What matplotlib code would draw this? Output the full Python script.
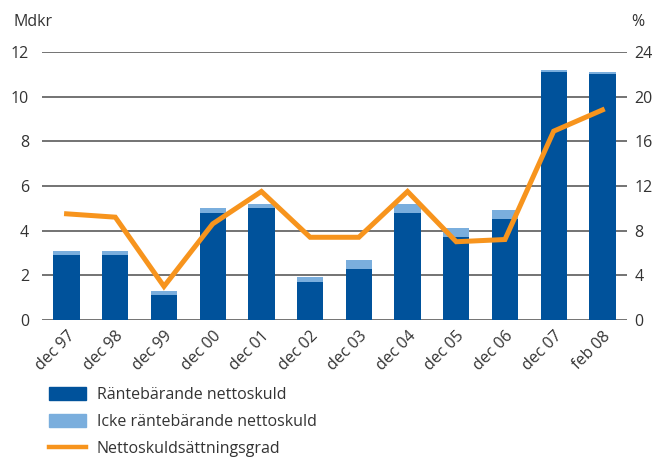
import matplotlib
matplotlib.use('Agg')
import matplotlib.pyplot as plt
from matplotlib.patches import Patch
from matplotlib.lines import Line2D
import numpy as np

plt.rcParams['font.family'] = ['Open Sans', 'DejaVu Sans']

categories = ['dec 97', 'dec 98', 'dec 99', 'dec 00', 'dec 01', 'dec 02',
              'dec 03', 'dec 04', 'dec 05', 'dec 06', 'dec 07', 'feb 08']
# Mdkr
rantebarande = [2.9, 2.9, 1.1, 4.8, 5.0, 1.7, 2.3, 4.8, 3.7, 4.5, 11.1, 11.0]
icke_rantebarande = [0.2, 0.2, 0.2, 0.2, 0.2, 0.2, 0.4, 0.4, 0.4, 0.4, 0.1, 0.1]
# procent
skuldsattningsgrad = [9.5, 9.2, 3.0, 8.6, 11.5, 7.4, 7.4, 11.5, 7.0, 7.2, 16.9, 18.8]

dark_blue = '#00529B'
light_blue = '#7AAEDD'
orange = '#F7941D'
text_col = '#333333'
fs = 11.5

fig = plt.figure(figsize=(6.52, 4.59), dpi=100)
ax = fig.add_axes([0.064, 0.303, 0.898, 0.584])
ax2 = ax.twinx()

x = np.arange(len(categories))
ax.bar(x, rantebarande, width=0.54, color=dark_blue, zorder=3)
ax.bar(x, icke_rantebarande, width=0.54, bottom=rantebarande, color=light_blue, zorder=3)
ax2.plot(x, skuldsattningsgrad, color=orange, lw=3.6, solid_joinstyle='miter', zorder=4)

ax.set_xlim(-0.51, 11.51)
ax.set_ylim(0, 12)
ax2.set_ylim(0, 24)
ax.set_yticks(range(0, 13, 2))
ax2.set_yticks(range(0, 25, 4))
ax.yaxis.grid(True, color='#4d4d4d', lw=1.1, zorder=0)
ax.set_axisbelow(True)

for a in (ax, ax2):
    for s in a.spines.values():
        s.set_visible(False)
    a.tick_params(axis='y', labelsize=fs, colors=text_col, length=0)

ax.tick_params(axis='y', pad=9)
ax2.tick_params(axis='y', pad=5)
ax.set_xticks(x)
ax.set_xticklabels(categories, rotation=45, ha='right', rotation_mode='anchor',
                   fontsize=fs, color=text_col)
ax.tick_params(axis='x', length=0, pad=6)

fig.text(0.02, 0.952, 'Mdkr', fontsize=fs, color=text_col, va='center')
fig.text(0.968, 0.952, '%', fontsize=fs, color=text_col, va='center')

handles = [Patch(color=dark_blue), Patch(color=light_blue),
           Line2D([], [], color=orange, lw=3.2)]
labels = ['Räntebärande nettoskuld', 'Icke räntebärande nettoskuld',
          'Nettoskuldsättningsgrad']
leg = fig.legend(handles, labels, loc='upper left', bbox_to_anchor=(0.075, 0.157),
                 frameon=False, fontsize=fs, handlelength=2.3, handleheight=0.85,
                 labelspacing=0.68, handletextpad=0.7, borderaxespad=0, borderpad=0)
for t in leg.get_texts():
    t.set_color(text_col)

fig.savefig('out.png', dpi=100)
